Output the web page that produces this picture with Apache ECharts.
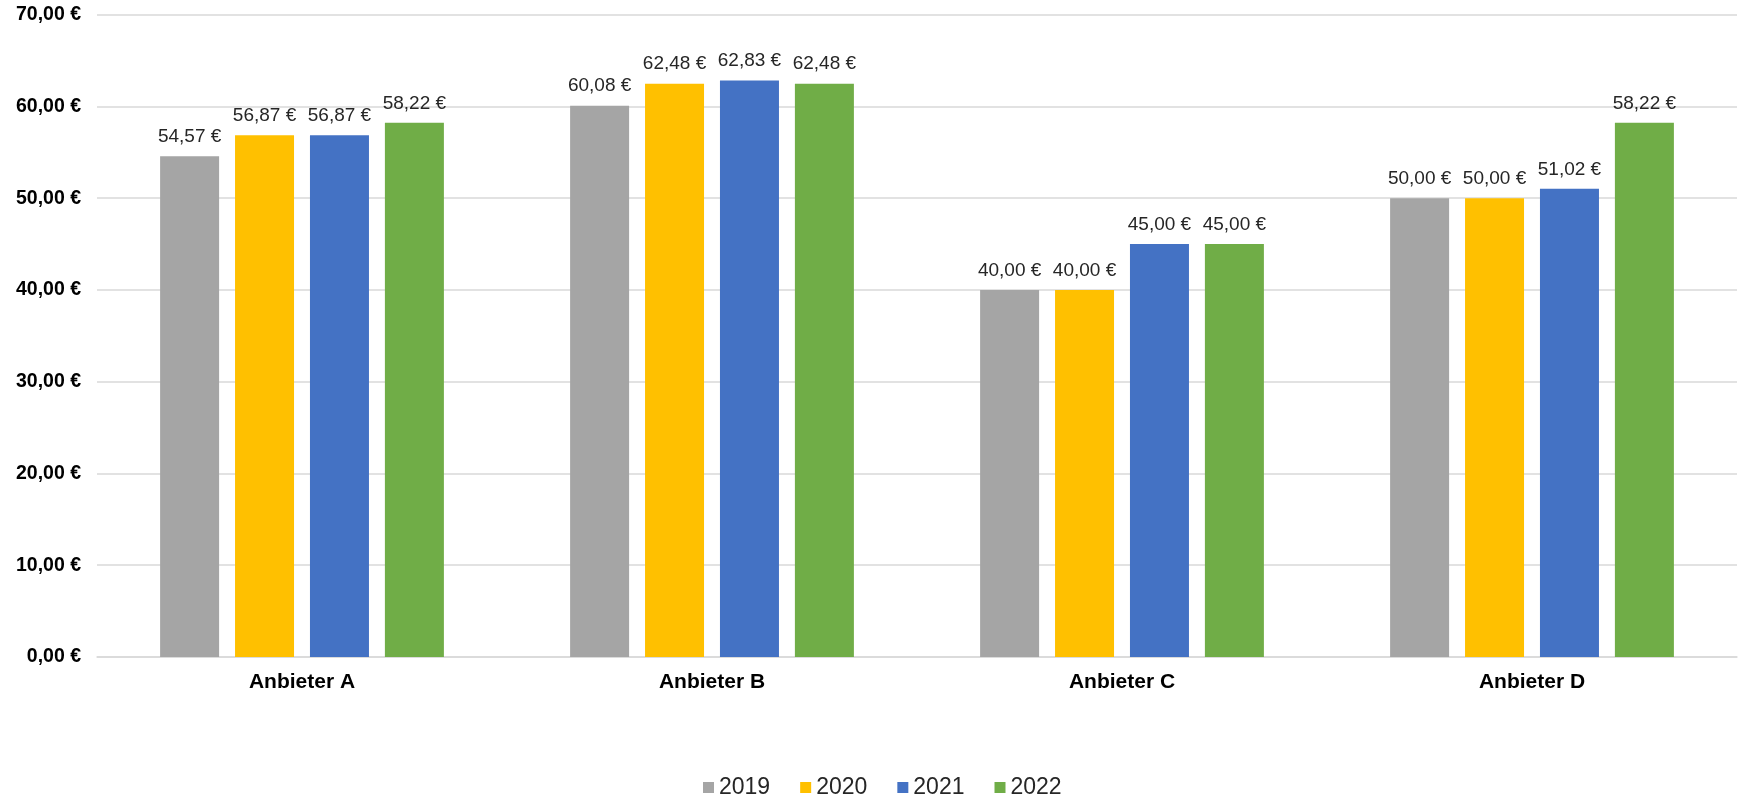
<!DOCTYPE html>
<html>
<head>
<meta charset="utf-8">
<script src="https://cdn.jsdelivr.net/npm/echarts@6/dist/echarts.min.js"></script>
<style>html,body{margin:0;padding:0;background:#fff}#c{width:1739px;height:800px}</style>
</head>
<body>
<div id="c"></div>
<script>
const categories = ['Anbieter A', 'Anbieter B', 'Anbieter C', 'Anbieter D'];
const years = ['2019', '2020', '2021', '2022'];
const v2019 = [54.57, 60.08, 40.00, 50.00];
const v2020 = [56.87, 62.48, 40.00, 50.00];
const v2021 = [56.87, 62.83, 45.00, 51.02];
const v2022 = [58.22, 62.48, 45.00, 58.22];
const yTicks = [0, 10, 20, 30, 40, 50, 60, 70];

const colors = ['#A5A5A5', '#FFC000', '#4472C4', '#70AD47'];
const seriesData = [v2019, v2020, v2021, v2022];
const fmt = v => v.toFixed(2).replace('.', ',') + ' €';
const FONT = '"Liberation Sans", Arial, sans-serif';

const chart = echarts.init(document.getElementById('c'), null, {renderer: 'canvas'});
chart.setOption({
  animation: false,
  textStyle: {fontFamily: FONT},
  grid: {left: 97, right: 2, top: 14.7, bottom: 143, containLabel: false},
  legend: {
    data: years,
    left: 698,
    top: 771,
    itemWidth: 11,
    itemHeight: 11,
    itemGap: 30,
    icon: 'rect',
    textStyle: {fontSize: 23, color: '#262626', fontFamily: FONT}
  },
  xAxis: {
    type: 'category',
    data: categories,
    axisLine: {lineStyle: {color: '#D9D9D9', width: 1.5}},
    axisTick: {show: false},
    axisLabel: {fontSize: 21, fontWeight: 'bold', color: '#000', margin: 15, fontFamily: FONT}
  },
  yAxis: {
    type: 'value',
    min: yTicks[0],
    max: yTicks[yTicks.length - 1],
    interval: 10,
    axisLine: {show: false},
    axisTick: {show: false},
    splitLine: {lineStyle: {color: '#D9D9D9', width: 1.5}},
    axisLabel: {fontSize: 19.5, fontWeight: 'bold', color: '#000', margin: 16, fontFamily: FONT,
      formatter: v => fmt(v)}
  },
  series: years.map((y, i) => ({
    name: y,
    type: 'bar',
    data: seriesData[i],
    barWidth: 59,
    barGap: '27%',
    itemStyle: {color: colors[i]},
    label: {show: true, position: 'top', distance: 10, fontSize: 19, color: '#262626',
      fontFamily: FONT, formatter: p => fmt(p.value)}
  }))
});
</script>
</body>
</html>
